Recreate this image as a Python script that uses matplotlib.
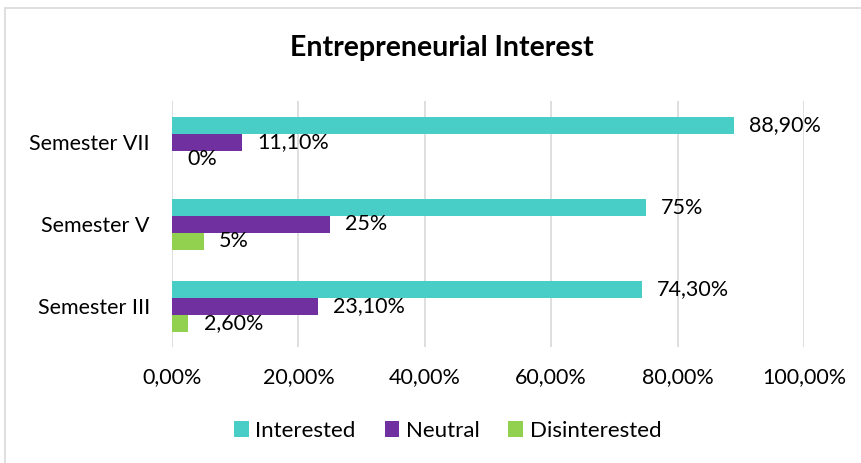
import numpy as np
import matplotlib.pyplot as plt
from matplotlib.patches import Rectangle

plt.rcParams['font.family'] = ['Lato', 'DejaVu Sans']

# data
semesters = ["Semester III", "Semester V", "Semester VII"]
interested = [74.3, 75.0, 88.9]
neutral = [23.1, 25.0, 11.1]
disinterested = [2.6, 5.0, 0.0]
interested_lbl = ["74,30%", "75%", "88,90%"]
neutral_lbl = ["23,10%", "25%", "11,10%"]
disinterested_lbl = ["2,60%", "5%", "0%"]
series_names = ["Interested", "Neutral", "Disinterested"]
colors = ["#48CEC7", "#7030A0", "#92D050"]

fig = plt.figure(figsize=(8.61, 4.63), dpi=100)
ax = fig.add_axes([0.1998, 0.2495, 0.734, 0.5313])

# outer chart frame
fig.patches.append(Rectangle((5 / 861, -0.1), 2, 1.1 - 8 / 463, transform=fig.transFigure,
                             fill=False, edgecolor="#D9D9D9", linewidth=1.2))

y = np.arange(len(semesters))
h = 0.207
series = [interested, neutral, disinterested]
labels = [interested_lbl, neutral_lbl, disinterested_lbl]
offsets = [h, 0, -h]
handles = []
for vals, lbls, off, col, name in zip(series, labels, offsets, colors, series_names):
    b = ax.barh(y + off, vals, height=h, color=col, label=name, zorder=3)
    handles.append(b)
    for yi, v, t in zip(y, vals, lbls):
        ax.annotate(t, (v, yi + off), xytext=(11, 0), textcoords="offset points",
                    va="center", ha="left", fontsize=15.5, color="#000000")

ax.set_xlim(0, 100)
ax.set_ylim(-0.5, 2.5)
ax.set_xticks(np.arange(0, 101, 20))
ax.set_xticklabels(["0,00%", "20,00%", "40,00%", "60,00%", "80,00%", "100,00%"], fontsize=15.5)
ax.set_yticks(y)
ax.set_yticklabels(semesters, fontsize=15.5)
ax.tick_params(length=0)
ax.tick_params(axis="y", pad=16)
ax.tick_params(axis="x", pad=14)
ax.grid(axis="x", color="#D9D9D9", linewidth=1.2, zorder=0)
for s in ax.spines.values():
    s.set_visible(False)

fig.suptitle("Entrepreneurial Interest", x=0.513, y=0.925, fontsize=20.5, fontweight="bold")

fig.legend(handles=handles, loc="center", bbox_to_anchor=(0.52, 0.069), ncol=3,
           frameon=False, fontsize=16, handlelength=0.65, handleheight=0.75,
           handletextpad=0.3, columnspacing=1.3)

fig.savefig("out.png", dpi=100)
